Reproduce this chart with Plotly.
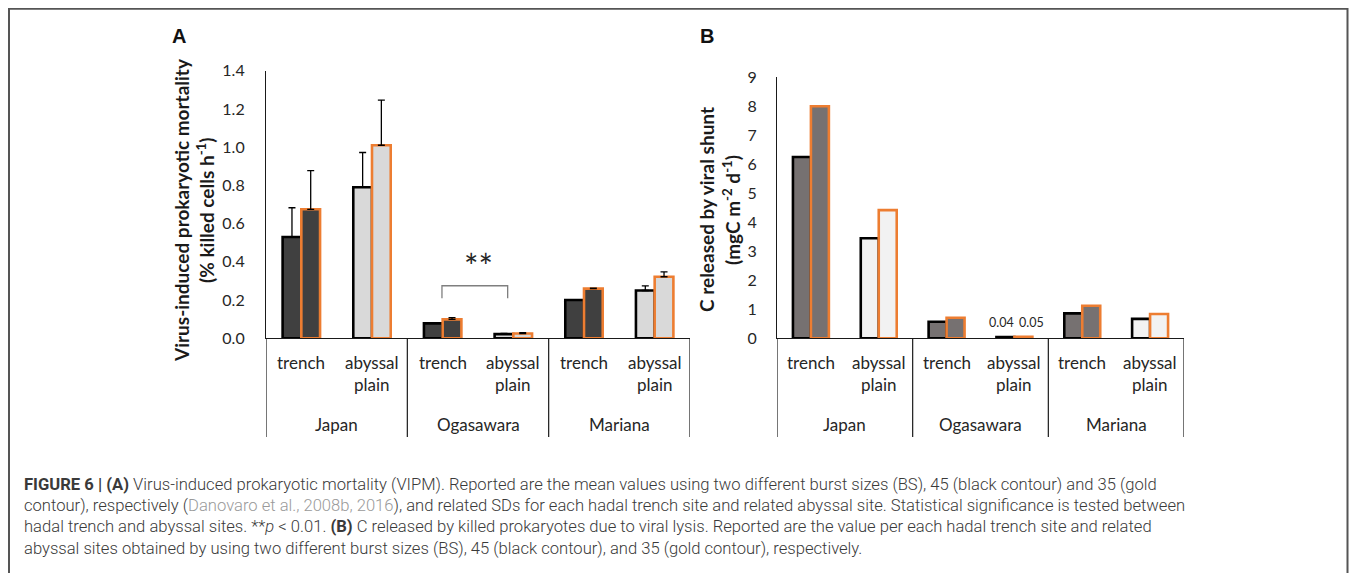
import plotly.graph_objects as go

# page (reference) size; the figure sits inside the page's 8px body margin
W, H = 1357, 581
OFF = 8
FW, FH = W - 2 * OFF, H - 2 * OFF

# ---------------- data ----------------
sites = ["Japan trench", "Japan abyssal", "Ogasawara trench",
         "Ogasawara abyssal", "Mariana trench", "Mariana abyssal"]
site_line1 = ["trench", "abyssal", "trench", "abyssal", "trench", "abyssal"]
site_line2 = ["", "plain", "", "plain", "", "plain"]
regions = ["Japan", "Ogasawara", "Mariana"]
is_trench = [True, False, True, False, True, False]

# Panel A: VIPM (% killed cells h-1)
vipm_bs45 = [0.53, 0.79, 0.078, 0.022, 0.20, 0.25]
vipm_bs45_sd = [0.153, 0.182, 0.0, 0.003, 0.0, 0.024]
vipm_bs35 = [0.675, 1.01, 0.099, 0.025, 0.26, 0.322]
vipm_bs35_sd = [0.202, 0.236, 0.009, 0.004, 0.003, 0.025]

# Panel B: C released by viral shunt (mgC m-2 d-1)
c_bs45 = [6.25, 3.45, 0.57, 0.04, 0.86, 0.67]
c_bs35 = [8.0, 4.42, 0.71, 0.05, 1.12, 0.84]

yticks_a = [0.0, 0.2, 0.4, 0.6, 0.8, 1.0, 1.2, 1.4]
yticks_b = [0, 1, 2, 3, 4, 5, 6, 7, 8, 9]

# ---------------- styles ----------------
BLACK = "#000000"
ORANGE = "#ED7D31"
A_FILL = ["#404040" if t else "#D9D9D9" for t in is_trench]
B_FILL = ["#767171" if t else "#F2F2F2" for t in is_trench]
FONT = "Lato, 'Open Sans', sans-serif"
CAP_FONT = "Roboto, 'Liberation Sans', sans-serif"
TXT = "#262626"


def px_x(x):
    return (x - OFF) / FW


def px_y(y):
    return 1 - (y - OFF) / FH


fig = go.Figure()

# Panel A bars
fig.add_trace(go.Bar(
    x=sites, y=vipm_bs45, xaxis="x", yaxis="y", name="BS 45",
    marker=dict(color=A_FILL, line=dict(color=BLACK, width=2.6)),
    error_y=dict(type="data", symmetric=False, array=vipm_bs45_sd,
                 arrayminus=[0] * 6, color="#000", thickness=1.3, width=3.5),
))
fig.add_trace(go.Bar(
    x=sites, y=vipm_bs35, xaxis="x", yaxis="y", name="BS 35",
    marker=dict(color=A_FILL, line=dict(color=ORANGE, width=2.6)),
    error_y=dict(type="data", symmetric=False, array=vipm_bs35_sd,
                 arrayminus=[0] * 6, color="#000", thickness=1.3, width=3.5),
))

# Panel B bars
fig.add_trace(go.Bar(
    x=sites, y=c_bs45, xaxis="x2", yaxis="y2", name="BS 45",
    marker=dict(color=B_FILL, line=dict(color=BLACK, width=2.6)),
))
fig.add_trace(go.Bar(
    x=sites, y=c_bs35, xaxis="x2", yaxis="y2", name="BS 35",
    marker=dict(color=B_FILL, line=dict(color=ORANGE, width=2.6)),
))

# axes geometry (reference pixels)
A_X0, A_X1 = 266, 690
B_X0, B_X1 = 777, 1184
Y0 = 338.3
A_YT = 70.7
B_YT = 77.3
SEP_BOTTOM = 437

axis_common = dict(showgrid=False, zeroline=False, showline=True,
                   linecolor="#1a1a1a", linewidth=1.2)

fig.update_layout(
    width=FW, height=FH,
    margin=dict(l=0, r=0, t=0, b=0, pad=0, autoexpand=False),
    paper_bgcolor="white", plot_bgcolor="white",
    showlegend=False, barmode="group", bargap=0.47, bargroupgap=0,
    font=dict(family=FONT, color=TXT),
    xaxis=dict(domain=[px_x(A_X0), px_x(A_X1)], anchor="y", type="category",
               categoryorder="array", categoryarray=sites,
               showticklabels=False, ticks="", range=[-0.5, 5.5], **axis_common),
    yaxis=dict(domain=[px_y(Y0), px_y(A_YT)], anchor="x", range=[0, 1.4],
               tickvals=yticks_a, ticktext=[f"{v:.1f}" for v in yticks_a],
               ticks="", ticklabelstandoff=17,
               tickfont=dict(family=FONT, size=16, color=TXT), **axis_common),
    xaxis2=dict(domain=[px_x(B_X0), px_x(B_X1)], anchor="y2", type="category",
                categoryorder="array", categoryarray=sites,
                showticklabels=False, ticks="", range=[-0.5, 5.5], **axis_common),
    yaxis2=dict(domain=[px_y(Y0), px_y(B_YT)], anchor="x2", range=[0, 9],
                tickvals=yticks_b, ticktext=[str(v) for v in yticks_b],
                ticks="", ticklabelstandoff=16,
                tickfont=dict(family=FONT, size=16, color=TXT), **axis_common),
)

shapes = []
annotations = []

# separators below x axis and category labels
for xa in ("x", "x2"):
    for pos in [-0.5, 1.5, 3.5, 5.5]:
        shapes.append(dict(type="line", xref=xa, yref="paper",
                           x0=pos, x1=pos, y0=px_y(SEP_BOTTOM), y1=px_y(Y0),
                           line=dict(color="#1a1a1a", width=1.2)))
    for i, s in enumerate(sites):
        annotations.append(dict(xref=xa, yref="paper", x=s, y=px_y(362),
                                text=site_line1[i], showarrow=False,
                                xanchor="center", yanchor="middle",
                                font=dict(family=FONT, size=17, color=TXT)))
        if site_line2[i]:
            annotations.append(dict(xref=xa, yref="paper", x=s, y=px_y(385),
                                    text=site_line2[i], showarrow=False,
                                    xanchor="center", yanchor="middle",
                                    font=dict(family=FONT, size=17, color=TXT)))
    for g, r in enumerate(regions):
        annotations.append(dict(xref=xa, yref="paper", x=2 * g + 0.5, y=px_y(424),
                                text=r, showarrow=False, xanchor="center",
                                yanchor="middle",
                                font=dict(family=FONT, size=17, color=TXT)))

# value labels for the tiny Ogasawara abyssal bars in panel B
for val, shift in ((c_bs45[3], -13), (c_bs35[3], 17)):
    annotations.append(dict(xref="x2", yref="y2", x=sites[3], y=val,
                            text=f"{val:.2f}", showarrow=False,
                            xanchor="center", yanchor="bottom",
                            xshift=shift, yshift=5,
                            font=dict(family=FONT, size=12.5, color=TXT)))

# significance bracket
shapes.append(dict(type="path", xref="x", yref="y",
                   path="M 1.99,0.21 L 1.99,0.275 L 2.92,0.275 L 2.92,0.21",
                   line=dict(color="#7f7f7f", width=1.3)))
annotations.append(dict(xref="x", yref="y", x=2.5, y=0.38, text="**",
                        showarrow=False, xanchor="center", yanchor="middle",
                        font=dict(family=FONT, size=34, color=TXT)))

# panel letters
for x, letter in ((179, "A"), (707, "B")):
    annotations.append(dict(xref="paper", yref="paper", x=px_x(x), y=px_y(36),
                            text=f"<b>{letter}</b>", showarrow=False,
                            xanchor="center", yanchor="middle",
                            font=dict(family="Liberation Sans, Arial", size=20,
                                      color="#111")))

# y axis titles
for x, txt in ((181, "<b>Virus-induced prokaryotic mortality</b>"),
               (205, "<b>(% killed cells h<sup>-1</sup>)</b>"),
               (706, "<b>C released by viral shunt</b>"),
               (731, "<b>(mgC m<sup>-2</sup> d<sup>-1</sup>)</b>")):
    annotations.append(dict(xref="paper", yref="paper", x=px_x(x), y=px_y(210),
                            text=txt, textangle=-90, showarrow=False,
                            xanchor="center", yanchor="middle",
                            font=dict(family=FONT, size=19, color="#1a1a1a")))

# caption
CAP = "#3a3a3a"
LIGHT = "#9a9a9a"
cap_lines = [
    "<b>FIGURE 6 | (A)</b> Virus-induced prokaryotic mortality (VIPM). Reported are the mean values "
    "using two different burst sizes (BS), 45 (black contour) and 35 (gold",
    f"contour), respectively (<span style='color:{LIGHT}'>Danovaro et al., 2008b, 2016</span>), "
    "and related SDs for each hadal trench site and related abyssal site. Statistical significance is tested between",
    "hadal trench and abyssal sites. **<i>p</i> &lt; 0.01. <b>(B)</b> C released by killed prokaryotes "
    "due to viral lysis. Reported are the value per each hadal trench site and related",
    "abyssal sites obtained by using two different burst sizes (BS), 45 (black contour), "
    "and 35 (gold contour), respectively.",
]
for i, line in enumerate(cap_lines):
    annotations.append(dict(xref="paper", yref="paper", x=px_x(22),
                            y=px_y(484 + 21.4 * i), text=line, showarrow=False,
                            xanchor="left", yanchor="middle", align="left",
                            font=dict(family=CAP_FONT, size=16.6, color=CAP,
                                      weight=300)))

# figure border
shapes.append(dict(type="rect", xref="paper", yref="paper",
                   x0=px_x(9), x1=px_x(1347.5), y0=-0.05, y1=px_y(8.7),
                   line=dict(color="#555555", width=2), layer="above"))

fig.update_layout(shapes=shapes, annotations=annotations)
fig.write_html("out.html")
